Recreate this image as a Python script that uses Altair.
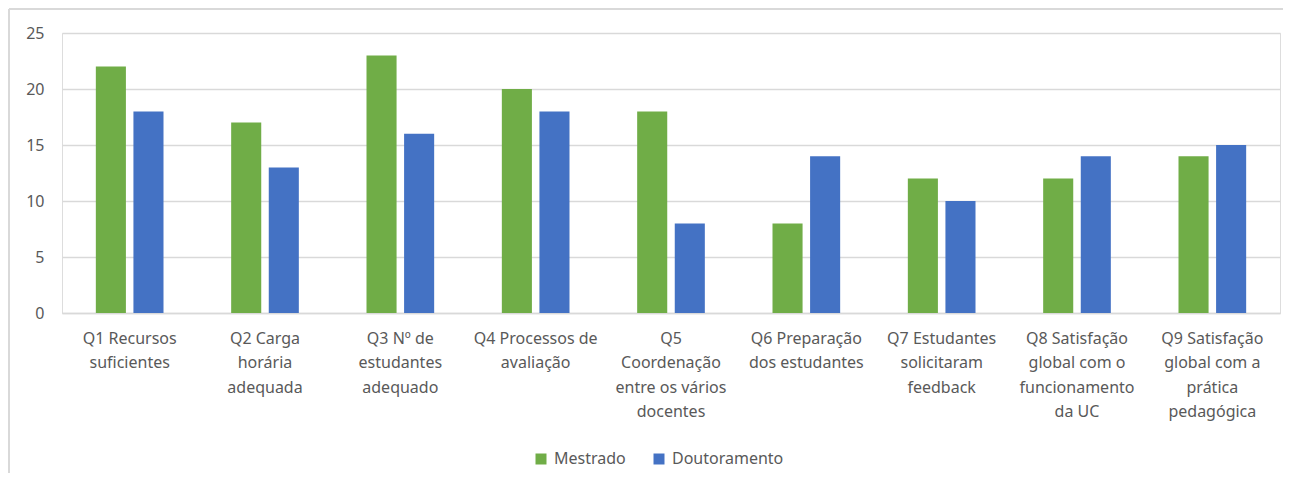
import altair as alt
import pandas as pd

categories = [
    "Q1 Recursos|suficientes",
    "Q2 Carga|horária|adequada",
    "Q3 Nº de|estudantes|adequado",
    "Q4 Processos de|avaliação",
    "Q5|Coordenação|entre os vários|docentes",
    "Q6 Preparação|dos estudantes",
    "Q7 Estudantes|solicitaram|feedback",
    "Q8 Satisfação|global com o|funcionamento|da UC",
    "Q9 Satisfação|global com a|prática|pedagógica",
]
series = ["Mestrado", "Doutoramento"]
mestrado = [22, 17, 23, 20, 18, 8, 12, 12, 14]
doutoramento = [18, 13, 16, 18, 8, 14, 10, 14, 15]
colors = ["#70AD47", "#4472C4"]

rows = []
for c, m, d in zip(categories, mestrado, doutoramento):
    rows.append({"q": c, "serie": "Mestrado", "v": m})
    rows.append({"q": c, "serie": "Doutoramento", "v": d})
df = pd.DataFrame(rows)

FONT = "Noto Sans"
TXT = "#595959"
GRID = "#D9D9D9"

bars = alt.Chart(df).mark_bar().encode(
    x=alt.X("q:N", sort=categories, title=None,
            scale=alt.Scale(paddingInner=0.5, paddingOuter=0.25),
            axis=alt.Axis(labelAngle=0, labelExpr="split(datum.label, '|')",
                          labelLineHeight=24.5, labelPadding=17, ticks=False,
                          domainColor=GRID, domainWidth=1.5,
                          labelFontSize=16, labelColor=TXT, labelFont=FONT,
                          labelBaseline="top", labelLimit=200)),
    xOffset=alt.XOffset("serie:N", sort=series,
                        scale=alt.Scale(paddingInner=0.2, paddingOuter=0)),
    y=alt.Y("v:Q", title=None,
            scale=alt.Scale(domain=[0, 25], nice=False),
            axis=alt.Axis(values=[0, 5, 10, 15, 20, 25], domain=False, ticks=False,
                          labelPadding=18, gridColor=GRID, gridWidth=1.5,
                          labelFontSize=16, labelColor=TXT, labelFont=FONT)),
    color=alt.Color("serie:N", sort=series,
                    scale=alt.Scale(domain=series, range=colors),
                    legend=alt.Legend(title=None, orient="none", direction="horizontal",
                                      legendX=471, legendY=418,
                                      symbolType="square", symbolSize=121,
                                      symbolStrokeWidth=0, symbolOffset=0,
                                      labelOffset=5, columnPadding=25,
                                      labelFontSize=16, labelColor=TXT, labelFont=FONT)),
)

frame_top = alt.Chart(pd.DataFrame({"a": [0]})).mark_rule(color=GRID, strokeWidth=2).encode(
    x=alt.value(-53), x2=alt.value(1240), y=alt.value(-24))
frame_left = alt.Chart(pd.DataFrame({"a": [0]})).mark_rule(color=GRID, strokeWidth=2).encode(
    x=alt.value(-53), y=alt.value(-24), y2=alt.value(460))

chart = alt.layer(frame_top, frame_left, bars).properties(
    width=1218, height=280,
    autosize=alt.AutoSizeParams(type="none"),
    padding={"left": 54, "top": 25, "right": 3, "bottom": 160},
).configure_view(stroke=None).configure(background="white")

chart.save("out.html", embed_options={"renderer": "svg", "actions": False})
